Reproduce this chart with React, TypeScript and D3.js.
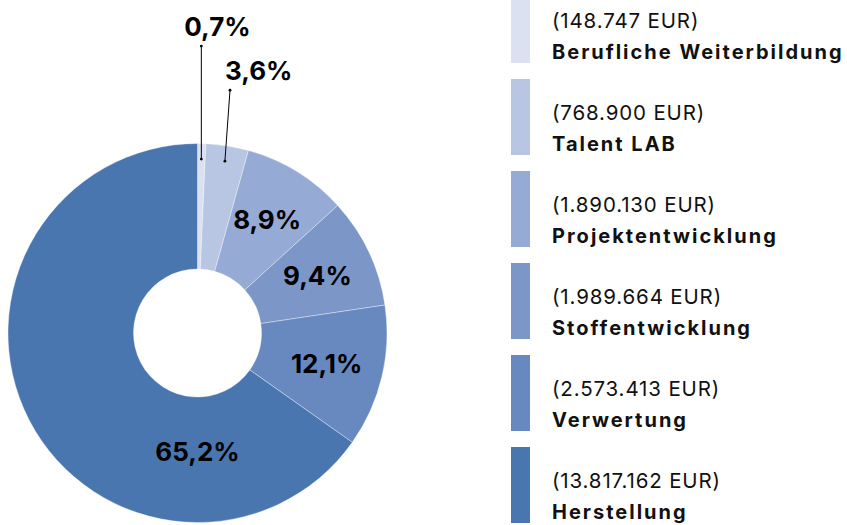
import React from "react";
import * as d3 from "d3";

const categories = [
  "Berufliche Weiterbildung",
  "Talent LAB",
  "Projektentwicklung",
  "Stoffentwicklung",
  "Verwertung",
  "Herstellung",
];
const amounts = [148747, 768900, 1890130, 1989664, 2573413, 13817162];
const amountLabels = [
  "(148.747 EUR)",
  "(768.900 EUR)",
  "(1.890.130 EUR)",
  "(1.989.664 EUR)",
  "(2.573.413 EUR)",
  "(13.817.162 EUR)",
];
const percentLabels = ["0,7%", "3,6%", "8,9%", "9,4%", "12,1%", "65,2%"];
const colors = ["#dbe1f1", "#b8c5e3", "#95aad4", "#7b96c7", "#6889bf", "#4a76b0"];

const W = 847;
const H = 525;
const CX = 197.5;
const CY = 333;
const R_OUT = 189.5;
const R_IN = 64;
const FONT = "Inter, 'DejaVu Sans', sans-serif";

// leader line geometry for small slices (outside labels)
const leaderStartR = 174;
const leaderEndR = [287, 245];
const leaderTextDx = [-17, -5];

export default function App() {
  const pie = d3
    .pie<number>()
    .sort(null)
    .value((d) => d)
    .startAngle(0)
    .endAngle(2 * Math.PI);
  const arcs = pie(amounts);
  const arc = d3.arc<d3.PieArcDatum<number>>().innerRadius(R_IN).outerRadius(R_OUT);
  const labelArc = d3.arc<d3.PieArcDatum<number>>().innerRadius(R_IN + 6).outerRadius(R_OUT + 6);

  const polar = (a: number, r: number) => [r * Math.sin(a), -r * Math.cos(a)];

  // legend layout
  const legendX = 511;
  const swW = 19;
  const swH = 76;
  const rowStep = 92;
  const firstTop = -13;

  return (
    <svg
      width={W}
      height={H}
      style={{ position: "absolute", left: 0, top: 0, background: "#fff" }}
      fontFamily={FONT}
    >
      <g transform={`translate(${CX},${CY})`}>
        {arcs.map((a, i) => (
          <path key={i} d={arc(a) || ""} fill={colors[i]} stroke="#ffffff" strokeWidth={0.6} strokeOpacity={0.6} />
        ))}
        {arcs.map((a, i) => {
          const frac = (a.endAngle - a.startAngle) / (2 * Math.PI);
          const mid = (a.startAngle + a.endAngle) / 2;
          if (frac < 0.05) {
            const k = i;
            const [sx, sy] = polar(mid, leaderStartR);
            let ex: number, ey: number;
            if (k === 0) {
              ex = sx;
              ey = -Math.sqrt(leaderEndR[0] ** 2 - sx * sx);
            } else {
              const ang = mid - 0.025;
              [ex, ey] = polar(ang, leaderEndR[1]);
            }
            return (
              <g key={"l" + i}>
                <line x1={sx} y1={sy} x2={ex} y2={ey} stroke="#000" strokeWidth={1} />
                <circle cx={sx} cy={sy} r={1.4} fill="#000" />
                <circle cx={ex} cy={ey} r={1.4} fill="#000" />
                <text
                  x={ex + leaderTextDx[k]}
                  y={ey - 10}
                  fontSize={26}
                  fontWeight={700}
                  fill="#000"
                  textAnchor="start"
                >
                  {percentLabels[i]}
                </text>
              </g>
            );
          }
          let [lx, ly] = labelArc.centroid(a);
          if (a.startAngle < Math.PI && a.endAngle > Math.PI) {
            [lx, ly] = polar(Math.PI, (R_IN + R_OUT) / 2 - 8);
          }
          return (
            <text
              key={"t" + i}
              x={lx}
              y={ly}
              dy="0.36em"
              fontSize={26}
              fontWeight={700}
              fill="#000"
              textAnchor="middle"
            >
              {percentLabels[i]}
            </text>
          );
        })}
      </g>
      <g>
        {categories.map((c, i) => {
          const top = firstTop + i * rowStep;
          return (
            <g key={c}>
              <rect x={legendX} y={top} width={swW} height={swH} fill={colors[i]} />
              <text x={552} y={top + 41} fontSize={20.5} letterSpacing={0.85} fill="#111">
                {amountLabels[i]}
              </text>
              <text x={552} y={top + 72} fontSize={20} fontWeight={700} letterSpacing={2} fill="#111">
                {c}
              </text>
            </g>
          );
        })}
      </g>
    </svg>
  );
}
